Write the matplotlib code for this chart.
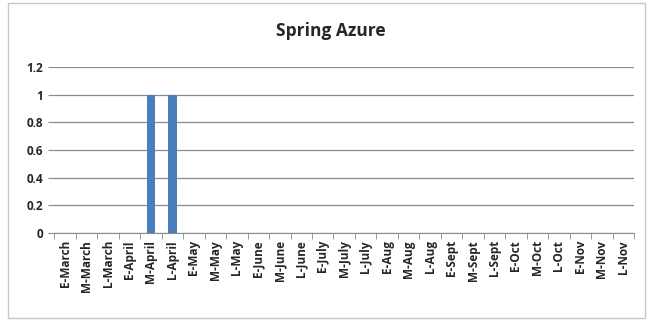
import numpy as np
import matplotlib.pyplot as plt
from matplotlib.patches import Rectangle

# periods (early / mid / late of each month)
periods = ["E-March", "M-March", "L-March", "E-April", "M-April", "L-April",
           "E-May", "M-May", "L-May", "E-June", "M-June", "L-June",
           "E-July", "M-July", "L-July", "E-Aug", "M-Aug", "L-Aug",
           "E-Sept", "M-Sept", "L-Sept", "E-Oct", "M-Oct", "L-Oct",
           "E-Nov", "M-Nov", "L-Nov"]
sightings = [0, 0, 0, 0, 1, 1,
             0, 0, 0, 0, 0, 0,
             0, 0, 0, 0, 0, 0,
             0, 0, 0, 0, 0, 0,
             0, 0, 0]
y_ticks = [0, 0.2, 0.4, 0.6, 0.8, 1, 1.2]
y_tick_labels = ["0", "0.2", "0.4", "0.6", "0.8", "1", "1.2"]

plt.rcParams['font.family'] = ['Open Sans', 'DejaVu Sans']

fig = plt.figure(figsize=(6.55, 3.22), dpi=100)
fig.patch.set_facecolor("white")

# chart border
fig.patches.append(Rectangle((0.012, 0.012), 0.973, 0.978, transform=fig.transFigure,
                             fill=False, edgecolor="#c8c8c8", linewidth=1.0))

ax = fig.add_axes([0.083, 0.276, 0.885, 0.516])
x = np.arange(len(periods))
ax.bar(x, sightings, width=0.38, color="#4a7ebb", zorder=3)

ax.set_xlim(-0.5, len(periods) - 0.5)
ax.set_ylim(0, 1.2)
ax.set_yticks(y_ticks)
ax.set_yticklabels(y_tick_labels, fontsize=8.5, fontweight="bold", color="#262626")
ax.yaxis.grid(True, color="#8c8c8c", linewidth=0.9, zorder=0)
ax.tick_params(axis="y", length=4, color="#8c8c8c", pad=4)

ax.set_xticks(x)
ax.set_xticklabels(periods, rotation=90, fontsize=8.5, fontweight="bold", color="#262626")
ax.set_xticks(np.arange(len(periods) + 1) - 0.5, minor=True)
ax.tick_params(axis="x", which="major", length=0, pad=5)
ax.tick_params(axis="x", which="minor", length=4, color="#8c8c8c")

for side in ["top", "right", "left"]:
    ax.spines[side].set_visible(False)
ax.spines["bottom"].set_color("#8c8c8c")

fig.text(0.505, 0.905, "Spring Azure", ha="center", va="center",
         fontsize=12.5, fontweight="bold", color="#262626")

fig.savefig("out.png", dpi=100)
